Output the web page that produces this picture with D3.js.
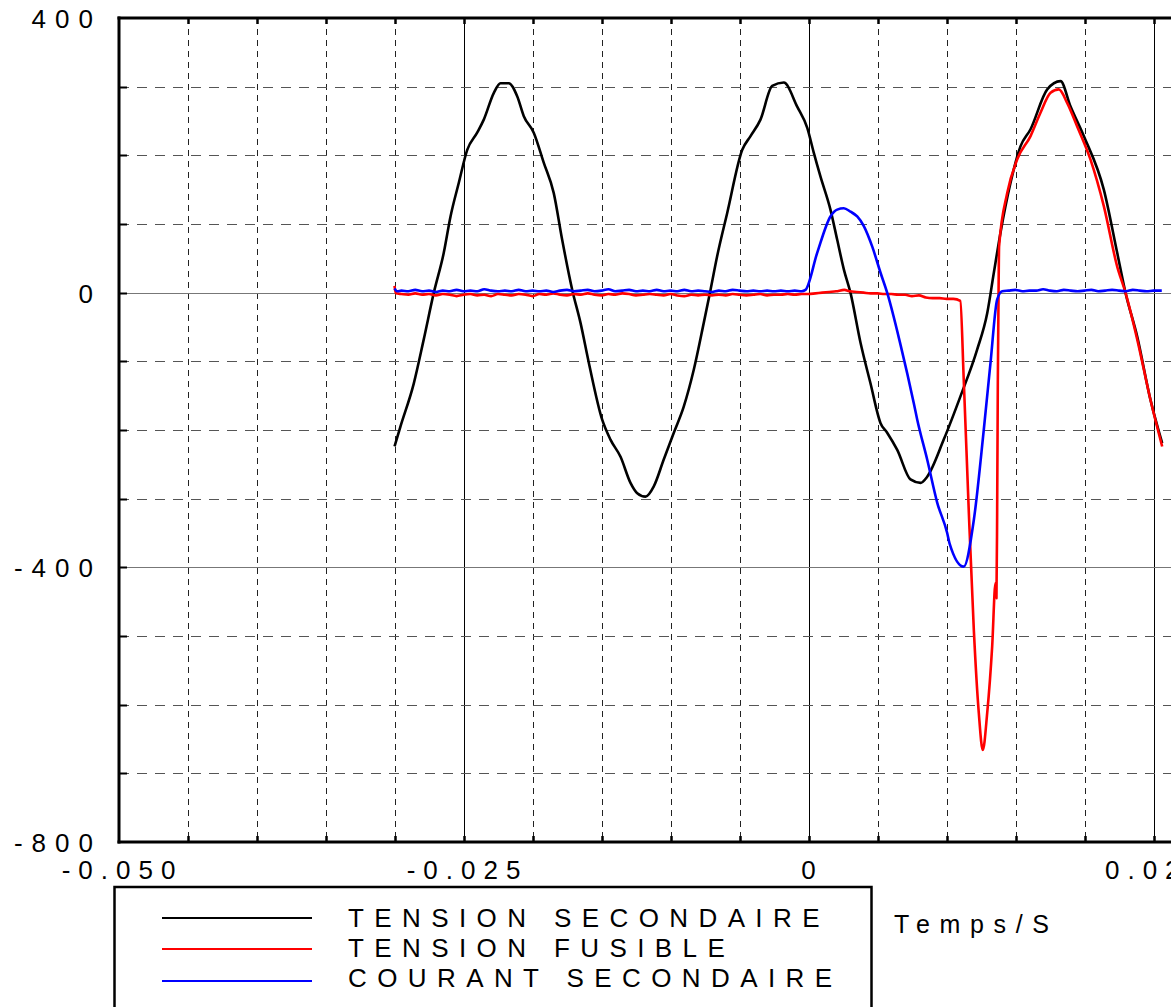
<!DOCTYPE html>
<html><head><meta charset="utf-8">
<script src="https://cdn.jsdelivr.net/npm/d3@7"></script>
<style>html,body{margin:0;padding:0;background:#fff;overflow:hidden}</style>
</head><body>
<svg id="chart" width="1171" height="1007"></svg>
<script>
// ---------- data ----------
const tickValuesX = [-0.05, -0.025, 0, 0.025];
const tickLabelsX = ["-0.050", "-0.025", "0", "0.025"];
const tickValuesY = [400, 0, -400, -800];
const tickLabelsY = ["400", "0", "-400", "-800"];
const seriesNames = ["TENSION SECONDAIRE", "TENSION FUSIBLE", "COURANT SECONDAIRE"];
const seriesColors = ["#000000", "#ff0000", "#0000ff"];
const xTitle = "Temps/S";

const timeSecondaire = [-0.0300,-0.02957,-0.02860,-0.02788,-0.02715,-0.02643,-0.02594,-0.02534,-0.02473,-0.02401,-0.02353,-0.02280,-0.02232,-0.02172,-0.02111,-0.02063,-0.01991,-0.01918,-0.01846,-0.01785,-0.01712,-0.01652,-0.01592,-0.01495,-0.01435,-0.01362,-0.01290,-0.01241,-0.01181,-0.01121,-0.01049,-0.00976,-0.00904,-0.00831,-0.00759,-0.00710,-0.00662,-0.00589,-0.00480,-0.00420,-0.00348,-0.00263,-0.00179,-0.00082,-0.00009,0.00038,0.00087,0.00159,0.00208,0.00256,0.00304,0.00377,0.00449,0.00522,0.00570,0.00643,0.00739,0.00812,0.00860,0.00980,0.01101,0.01222,0.01295,0.01343,0.01391,0.01464,0.01536,0.01609,0.01730,0.01826,0.01899,0.01995,0.02140,0.02237,0.02297,0.02382,0.02478,0.02563];
const tensionSecondaire = [-224,-195,-132,-68,0,58,111,160,208,233,252,291,305,305,286,257,233,189,145,77,4,-44,-102,-185,-214,-239,-277,-292,-297,-282,-243,-204,-166,-112,-44,4,53,116,208,228,252,301,306,271,240,204,169,121,77,34,0,-73,-132,-190,-204,-229,-272,-277,-268,-214,-151,-83,-30,29,87,160,213,238,296,308,271,228,150,58,0,-64,-156,-219];

const timeFusible = [-0.0300,-0.0299,-0.0295,-0.0290,-0.0285,-0.0280,-0.0275,-0.0270,-0.0265,-0.0260,-0.0255,-0.0250,-0.0245,-0.0240,-0.0235,-0.0230,-0.0225,-0.0220,-0.0215,-0.0210,-0.0205,-0.0200,-0.0195,-0.0190,-0.0185,-0.0180,-0.0175,-0.0170,-0.0165,-0.0160,-0.0155,-0.0150,-0.0145,-0.0140,-0.0135,-0.0130,-0.0125,-0.0120,-0.0115,-0.0110,-0.0105,-0.0100,-0.0095,-0.0090,-0.0085,-0.0080,-0.0075,-0.0070,-0.0065,-0.0060,-0.0055,-0.0050,-0.0045,-0.0040,-0.0035,-0.0030,-0.0025,-0.0020,-0.0015,-0.0010,-0.0005,0.0000,0.0005,0.0010,0.0015,0.0020,0.0026,0.0030,0.0035,0.0040,0.0045,0.0050,0.0055,0.0060,0.0065,0.0070,0.0075,0.0080,0.0085,0.0090,0.0095,0.0100,0.0105,0.0110,0.01125,0.01162,0.01198,0.01234,0.01263,0.01295,0.01331,0.01355,0.01362,0.01367,0.01372,0.01378,0.01381,0.01440,0.01512,0.01609,0.01681,0.01754,0.01814,0.01875,0.01947,0.02043,0.02140,0.02237,0.02297,0.02382,0.02478,0.02563];
const tensionFusible = [10,-1,-2,-3,-1,-3,-2,-4,-2,-3,-5,-3,-2,-4,-3,-5,-2,-3,-4,-2,-3,-5,-2,-3,-1,-3,-4,-2,-3,-1,-3,-4,-2,-3,-1,-2,-4,-3,-2,-3,-4,-2,-4,-5,-3,-4,-3,-4,-3,-4,-2,-3,-4,-3,-2,-4,-3,-3,-2,-3,-2,-2,-1,0,1,2,4,2,1,0,-1,-1,-2,-2,-3,-3,-5,-4,-7,-8,-8,-9,-9,-12,-127,-321,-491,-612,-666,-612,-515,-423,-445,-321,-127,19,67,145,194,228,262,291,296,276,242,194,126,38,0,-68,-156,-224];

const timeCourant = [-0.0300,-0.0298,-0.0295,-0.0290,-0.0285,-0.0280,-0.0275,-0.0270,-0.0265,-0.0260,-0.0255,-0.0250,-0.0245,-0.0240,-0.0235,-0.0230,-0.0225,-0.0220,-0.0215,-0.0210,-0.0205,-0.0200,-0.0195,-0.0190,-0.0185,-0.0180,-0.0175,-0.0170,-0.0165,-0.0160,-0.0155,-0.0150,-0.0145,-0.0140,-0.0135,-0.0130,-0.0125,-0.0120,-0.0115,-0.0110,-0.0105,-0.0100,-0.0095,-0.0090,-0.0085,-0.0080,-0.0075,-0.0070,-0.0065,-0.0060,-0.0055,-0.0050,-0.0045,-0.0040,-0.0035,-0.0030,-0.0025,-0.0020,-0.0015,-0.0010,-0.0005,-0.00022,0.00063,0.00159,0.00208,0.00256,0.00304,0.00353,0.00401,0.00462,0.00522,0.00570,0.00667,0.00763,0.00788,0.00860,0.00933,0.01005,0.01022,0.01125,0.01198,0.01270,0.01319,0.01367,0.01404,0.0145,0.0150,0.0155,0.0160,0.0165,0.0170,0.0175,0.0180,0.0185,0.0190,0.0195,0.0200,0.0205,0.0210,0.0215,0.0220,0.0225,0.0230,0.0235,0.0240,0.0245,0.0250,0.0256];
const courantSecondaire = [6,2,3,2,4,2,3,1,3,2,4,2,3,2,5,3,2,3,2,4,2,3,2,3,1,3,4,2,3,4,2,3,5,2,3,4,2,3,2,4,2,3,2,4,2,3,2,1,3,2,4,3,2,3,2,3,2,3,2,3,2,4,58,111,121,123,118,111,97,67,29,0,-76,-161,-185,-243,-306,-350,-365,-399,-331,-200,-102,-10,2,3,4,2,3,3,5,3,2,4,3,2,3,4,2,3,4,3,2,4,3,2,3,3];

// ---------- layout ----------
const FONT = "'Liberation Sans', Arial, Helvetica, sans-serif";
const svg = d3.select("#chart");
const plotLeft = 119, plotTop = 18, plotBottom = 842;
const x = d3.scaleLinear().domain([-0.05, 0.05]).range([118.5, 1498.5]);
const y = d3.scaleLinear().domain([-800, 400]).range([842, 18]);

const isMultiple = (v, step) => Math.abs(v / step - Math.round(v / step)) < 1e-6;
const xGrid = x.ticks(20);   // every 0.005
const yGrid = y.ticks(12);   // every 100

const grid = svg.append("g");
xGrid.filter(v => v > -0.05 + 1e-9).forEach(v => {
  const major = isMultiple(v, 0.025);
  grid.append("line")
    .attr("x1", Math.round(x(v)) + 0.5).attr("x2", Math.round(x(v)) + 0.5)
    .attr("y1", plotTop).attr("y2", plotBottom)
    .attr("stroke", major ? "#000" : "#222")
    .attr("stroke-width", 1)
    .attr("stroke-dasharray", major ? null : "6,5");
});
yGrid.filter(v => v > -800 && v < 400).forEach(v => {
  const major = isMultiple(v, 400);
  grid.append("line")
    .attr("x1", plotLeft).attr("x2", 1171)
    .attr("y1", Math.round(y(v)) + 0.5).attr("y2", Math.round(y(v)) + 0.5)
    .attr("stroke", major ? "#777" : "#555")
    .attr("stroke-width", 1)
    .attr("stroke-dasharray", major ? null : "10,8");
});

// ---------- curves ----------
const line = d3.line().x(d => x(d[0])).y(d => y(d[1])).curve(d3.curveMonotoneX);
const seriesData = [
  d3.zip(timeSecondaire, tensionSecondaire),
  d3.zip(timeFusible, tensionFusible),
  d3.zip(timeCourant, courantSecondaire)
];
seriesData.forEach((data, i) => {
  svg.append("path").datum(data)
    .attr("d", line)
    .attr("fill", "none")
    .attr("stroke", seriesColors[i])
    .attr("stroke-width", 2.6)
    .attr("stroke-linejoin", "round");
});

// ---------- frame & ticks ----------
const frame = svg.append("g").attr("stroke", "#000");
frame.append("line").attr("x1", plotLeft).attr("x2", plotLeft).attr("y1", plotTop - 1.5).attr("y2", plotBottom + 1.5).attr("stroke-width", 3);
frame.append("line").attr("x1", plotLeft - 1.5).attr("x2", 1171).attr("y1", plotTop).attr("y2", plotTop).attr("stroke-width", 3);
frame.append("line").attr("x1", plotLeft - 1.5).attr("x2", 1171).attr("y1", plotBottom).attr("y2", plotBottom).attr("stroke-width", 3);
yGrid.filter(v => v > -800 && v < 400).forEach(v => {
  frame.append("line").attr("x1", plotLeft).attr("x2", plotLeft + 8)
    .attr("y1", Math.round(y(v)) + 0.5).attr("y2", Math.round(y(v)) + 0.5).attr("stroke-width", 2);
});
xGrid.filter(v => v > -0.05 + 1e-9).forEach(v => {
  const xx = Math.round(x(v)) + 0.5;
  frame.append("line").attr("x1", xx).attr("x2", xx).attr("y1", plotTop).attr("y2", plotTop + 6).attr("stroke-width", 2.5);
  frame.append("line").attr("x1", xx).attr("x2", xx).attr("y1", plotBottom - 6).attr("y2", plotBottom).attr("stroke-width", 2.5);
});

// ---------- tick labels ----------
const LS_Y = 9, LS_X = 8;
tickValuesY.forEach((v, i) => {
  svg.append("text")
    .attr("x", 93 + LS_Y).attr("y", y(v) + 10)
    .attr("text-anchor", "end")
    .attr("font-family", FONT).attr("font-size", 26)
    .attr("letter-spacing", LS_Y)
    .text(tickLabelsY[i]);
});
tickValuesX.forEach((v, i) => {
  svg.append("text")
    .attr("x", x(v) + LS_X / 2).attr("y", 879)
    .attr("text-anchor", "middle")
    .attr("font-family", FONT).attr("font-size", 26)
    .attr("letter-spacing", LS_X)
    .text(tickLabelsX[i]);
});

// ---------- legend ----------
svg.append("rect")
  .attr("x", 114.5).attr("y", 887).attr("width", 757).attr("height", 200)
  .attr("fill", "#fff").attr("stroke", "#000").attr("stroke-width", 2.5);
const legendLineY = [918, 949, 981];
const legendTextY = [926.7, 956.7, 986.7];
seriesNames.forEach((name, i) => {
  svg.append("line")
    .attr("x1", 162).attr("x2", 312)
    .attr("y1", legendLineY[i]).attr("y2", legendLineY[i])
    .attr("stroke", seriesColors[i]).attr("stroke-width", 1.8);
  svg.append("text")
    .attr("x", 348).attr("y", legendTextY[i])
    .attr("font-family", FONT).attr("font-size", 26)
    .attr("letter-spacing", 10.4)
    .text(name);
});
svg.append("text")
  .attr("x", 894).attr("y", 932.5)
  .attr("font-family", FONT).attr("font-size", 25)
  .attr("letter-spacing", 9.6)
  .text(xTitle);
</script>
</body></html>
